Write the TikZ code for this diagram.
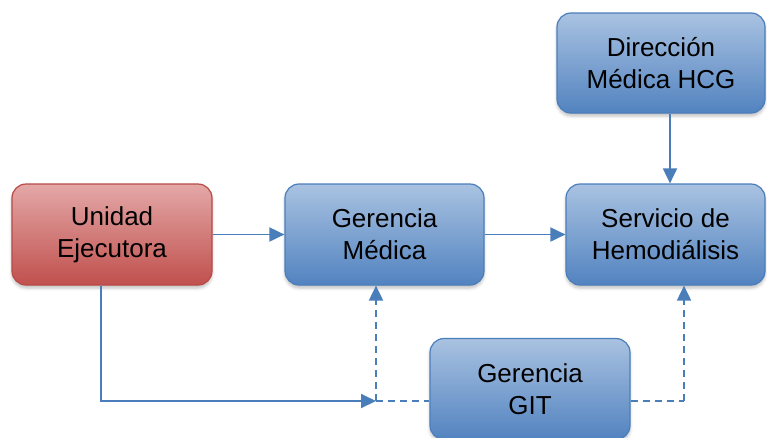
\documentclass[tikz,border=0pt]{standalone}
\usepackage{fontspec}
\setmainfont{Liberation Sans}
\usetikzlibrary{arrows.meta,shadows.blur,calc}

\definecolor{bluetop}{HTML}{A9C2E1}
\definecolor{bluebot}{HTML}{5283C0}
\definecolor{blueline}{HTML}{4A7EBB}
\definecolor{redtop}{HTML}{E3A8A7}
\definecolor{redbot}{HTML}{C0504D}
\definecolor{redline}{HTML}{B84A47}

\tikzset{
  box/.style={draw=blueline, line width=1.2pt, rounded corners=14pt,
    top color=bluetop, bottom color=bluebot,
    align=center, text=black, inner sep=0pt,
    font=\fontsize{26}{32}\selectfont,
    blur shadow={shadow xshift=0pt, shadow yshift=-3pt,
      shadow blur radius=3pt, shadow opacity=25}},
  redbox/.style={box, draw=redline, top color=redtop, bottom color=redbot},
  link/.style={draw=blueline, line width=1.9pt},
  tip/.style={-{Triangle[length=15pt,width=14pt]}},
  dashlink/.style={link, dash pattern=on 7pt off 5pt},
}

\begin{document}
\begin{tikzpicture}[x=1pt,y=-1pt]
  \useasboundingbox (0,0) rectangle (767,437);
  \clip (0,0) rectangle (767,437);

  % organisational units
  \node[redbox, minimum width=200pt, minimum height=101pt] (ue) at (112,234.5)
    {Unidad\\Ejecutora};
  \node[box, minimum width=199pt, minimum height=101pt] (gm) at (384.5,234.5)
    {Gerencia\\Médica};
  \node[box, minimum width=199pt, minimum height=101pt] (sh) at (665.5,234.5)
    {Servicio de\\Hemodiálisis};
  \node[box, minimum width=208pt, minimum height=100pt] (dm) at (661,63)
    {Dirección\\Médica HCG};
  \node[box, minimum width=200pt, minimum height=101pt] (git) at (530,389)
    {Gerencia\\GIT};

  % junctions of the support lines
  \coordinate (ja) at (376,401);
  \coordinate (jb) at (684,401);

  % solid reporting lines
  \draw[link, tip] (ue.east) -- (gm.west);
  \draw[link, tip] (gm.east) -- (sh.west);
  \draw[link, tip] ([xshift=9pt]dm.south) -- ([xshift=4.5pt]sh.north);
  \draw[link, tip] ([xshift=-11pt]ue.south) |- (ja);

  % dashed support lines from GIT
  \draw[dashlink, tip] (ja) -- (ja |- gm.south);
  \draw[dashlink] (ja) -- (git.west |- ja);
  \draw[dashlink] (git.east |- jb) -- (jb);
  \draw[dashlink, tip] (jb) -- (jb |- sh.south);
\end{tikzpicture}
\end{document}
